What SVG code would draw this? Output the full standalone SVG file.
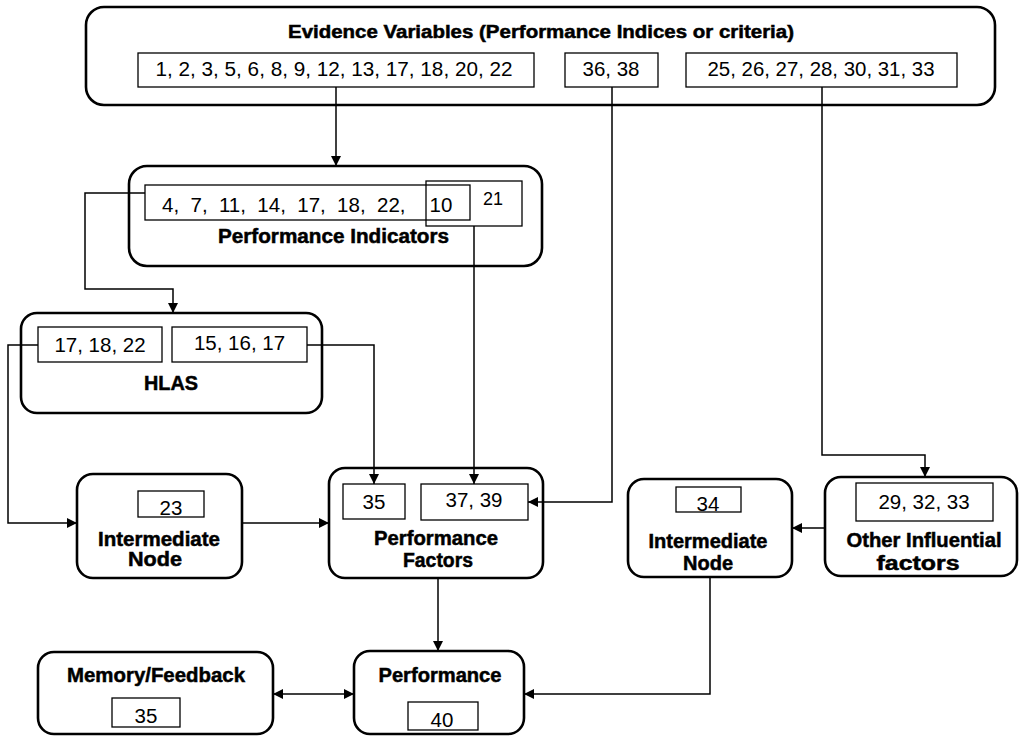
<svg xmlns="http://www.w3.org/2000/svg" width="1024" height="738" viewBox="0 0 1024 738">
  <defs>
    <marker id="arrow" viewBox="0 0 10 10" refX="10" refY="5" markerWidth="10" markerHeight="10" markerUnits="userSpaceOnUse" orient="auto-start-reverse">
      <path d="M0,0 L10,5 L0,10 Z" fill="#000"/>
    </marker>
    <style>
      .node { fill: #fff; stroke: #000; stroke-width: 2.6; }
      .cell { fill: #fff; stroke: #000; stroke-width: 1.3; }
      .title { font-family: "Liberation Sans", Arial, sans-serif; font-weight: bold; font-size: 20px; text-anchor: middle; fill: #000; stroke: #000; stroke-width: 0.5; }
      .num { font-family: "Liberation Sans", Arial, sans-serif; font-size: 20.5px; text-anchor: middle; fill: #000; }
      .link { fill: none; stroke: #000; stroke-width: 1.5; }
    </style>
  </defs>
  <rect width="1024" height="738" fill="#fff"/>

  <!-- Evidence variables -->
  <g id="evidence">
    <rect class="node" x="86" y="7" width="909" height="98" rx="18"/>
    <text class="title" x="541" y="38" style="font-size:18px" textLength="506" lengthAdjust="spacingAndGlyphs">Evidence Variables (Performance Indices or criteria)</text>
    <rect class="cell" x="138" y="53" width="396" height="34"/>
    <text class="num" x="334" y="76" textLength="357" lengthAdjust="spacingAndGlyphs">1, 2, 3, 5, 6, 8, 9, 12, 13, 17, 18, 20, 22</text>
    <rect class="cell" x="565" y="53" width="93" height="34"/>
    <text class="num" x="611" y="76">36, 38</text>
    <rect class="cell" x="686" y="53" width="271" height="34"/>
    <text class="num" x="821" y="76" textLength="227" lengthAdjust="spacingAndGlyphs">25, 26, 27, 28, 30, 31, 33</text>
  </g>

  <!-- Performance indicators -->
  <g id="indicators">
    <rect class="node" x="129" y="166" width="413" height="100" rx="18"/>
    <rect class="cell" x="145" y="185" width="325" height="35"/>
    <rect class="cell" x="426" y="181" width="96" height="45" style="fill:none"/>
    <text class="num" x="162" y="212" style="text-anchor:start" xml:space="preserve">4,  7,  11,  14,  17,  18,  22,</text>
    <text class="num" x="441" y="212">10</text>
    <text class="num" x="493" y="205" style="font-size:18px">21</text>
    <text class="title" x="333.5" y="243" textLength="231" lengthAdjust="spacingAndGlyphs">Performance Indicators</text>
  </g>

  <!-- HLAS -->
  <g id="hlas">
    <rect class="node" x="21" y="313" width="301" height="100" rx="16"/>
    <rect class="cell" x="38" y="327" width="124" height="35"/>
    <text class="num" x="100" y="352">17, 18, 22</text>
    <rect class="cell" x="172" y="327" width="135" height="35"/>
    <text class="num" x="239.5" y="350">15, 16, 17</text>
    <text class="title" x="171" y="390" textLength="54" lengthAdjust="spacingAndGlyphs">HLAS</text>
  </g>

  <!-- Intermediate node (left) -->
  <g id="intermediate-left">
    <rect class="node" x="77" y="474" width="165" height="104" rx="16"/>
    <rect class="cell" x="138" y="491" width="66" height="26"/>
    <text class="num" x="171" y="515">23</text>
    <text class="title" x="159" y="546" textLength="122" lengthAdjust="spacingAndGlyphs">Intermediate</text>
    <text class="title" x="155" y="566" textLength="54" lengthAdjust="spacingAndGlyphs">Node</text>
  </g>

  <!-- Performance factors -->
  <g id="factors">
    <rect class="node" x="329" y="468" width="214" height="110" rx="16"/>
    <rect class="cell" x="343" y="484" width="62" height="35"/>
    <text class="num" x="374" y="509">35</text>
    <rect class="cell" x="421" y="484" width="107" height="36"/>
    <text class="num" x="474" y="507">37, 39</text>
    <text class="title" x="436" y="545" textLength="124" lengthAdjust="spacingAndGlyphs">Performance</text>
    <text class="title" x="438" y="567" textLength="70" lengthAdjust="spacingAndGlyphs">Factors</text>
  </g>

  <!-- Intermediate node (right) -->
  <g id="intermediate-right">
    <rect class="node" x="628" y="479" width="164" height="98" rx="16"/>
    <rect class="cell" x="676" y="487" width="65" height="25"/>
    <text class="num" x="708" y="511">34</text>
    <text class="title" x="708" y="548" textLength="119" lengthAdjust="spacingAndGlyphs">Intermediate</text>
    <text class="title" x="708" y="570" textLength="50" lengthAdjust="spacingAndGlyphs">Node</text>
  </g>

  <!-- Other influential factors -->
  <g id="other-factors">
    <rect class="node" x="825" y="477" width="192" height="99" rx="16"/>
    <rect class="cell" x="856" y="483" width="137" height="38"/>
    <text class="num" x="924" y="509">29, 32, 33</text>
    <text class="title" x="924" y="547" textLength="155" lengthAdjust="spacingAndGlyphs">Other Influential</text>
    <text class="title" x="918" y="570" textLength="83" lengthAdjust="spacingAndGlyphs">factors</text>
  </g>

  <!-- Memory / feedback -->
  <g id="memory">
    <rect class="node" x="38" y="652" width="235" height="82" rx="16"/>
    <text class="title" x="156" y="682" textLength="178" lengthAdjust="spacingAndGlyphs">Memory/Feedback</text>
    <rect class="cell" x="112" y="698" width="68" height="29"/>
    <text class="num" x="146" y="723">35</text>
  </g>

  <!-- Performance -->
  <g id="performance">
    <rect class="node" x="354" y="651" width="170" height="83" rx="16"/>
    <text class="title" x="440" y="682" textLength="123" lengthAdjust="spacingAndGlyphs">Performance</text>
    <rect class="cell" x="408" y="702" width="70" height="28"/>
    <text class="num" x="442" y="727">40</text>
  </g>

  <!-- Connectors -->
  <g id="connectors">
    <path class="link" d="M336,87 V166" marker-end="url(#arrow)"/>
    <path class="link" d="M612,87 V502 H528" marker-end="url(#arrow)"/>
    <path class="link" d="M822,87 V455 H925 V477" marker-end="url(#arrow)"/>
    <path class="link" d="M145,193 H85 V289 H173 V313" marker-end="url(#arrow)"/>
    <path class="link" d="M474,226 V484" marker-end="url(#arrow)"/>
    <path class="link" d="M38,345 H8 V523 H77" marker-end="url(#arrow)"/>
    <path class="link" d="M307,345 H374 V484" marker-end="url(#arrow)"/>
    <path class="link" d="M242,523 H329" marker-end="url(#arrow)"/>
    <path class="link" d="M825,528 H792" marker-end="url(#arrow)"/>
    <path class="link" d="M438,578 V651" marker-end="url(#arrow)"/>
    <path class="link" d="M710,577 V694 H524" marker-end="url(#arrow)"/>
    <path class="link" d="M273,694 H354" marker-start="url(#arrow)" marker-end="url(#arrow)"/>
  </g>
</svg>
